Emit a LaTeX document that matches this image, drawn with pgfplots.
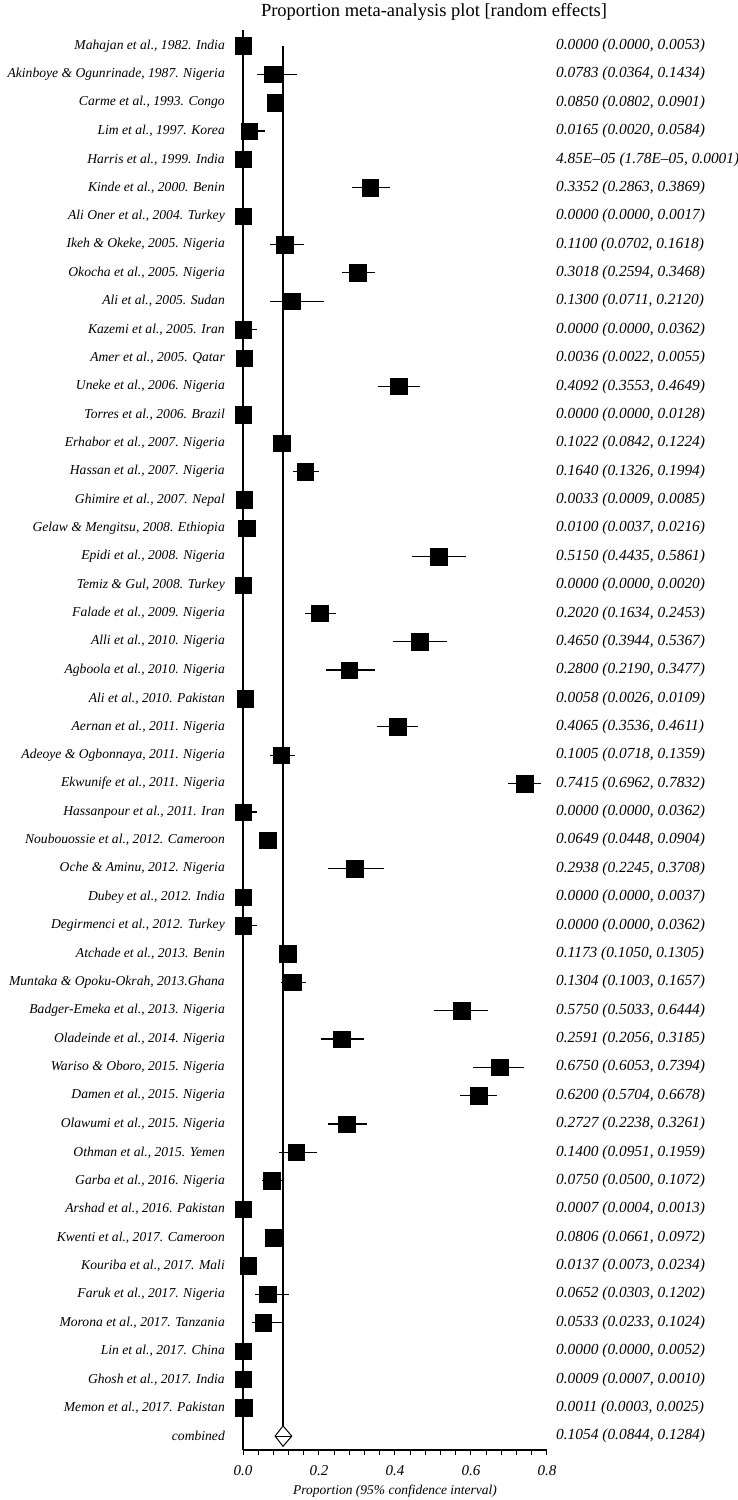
\documentclass[border=0pt]{standalone}
\usepackage{pgfplots}
\pgfplotsset{compat=1.18}
\usepackage{pgfplotstable}
\usepackage{fontspec}
\setmainfont{Liberation Serif}

\pgfplotstableread{
y est lo hi
49 0.0000 0.0000 0.0053
48 0.0783 0.0364 0.1434
47 0.0850 0.0802 0.0901
46 0.0165 0.0020 0.0584
45 0.0000485 0.0000178 0.0001
44 0.3352 0.2863 0.3869
43 0.0000 0.0000 0.0017
42 0.1100 0.0702 0.1618
41 0.3018 0.2594 0.3468
40 0.1300 0.0711 0.2120
39 0.0000 0.0000 0.0362
38 0.0036 0.0022 0.0055
37 0.4092 0.3553 0.4649
36 0.0000 0.0000 0.0128
35 0.1022 0.0842 0.1224
34 0.1640 0.1326 0.1994
33 0.0033 0.0009 0.0085
32 0.0100 0.0037 0.0216
31 0.5150 0.4435 0.5861
30 0.0000 0.0000 0.0020
29 0.2020 0.1634 0.2453
28 0.4650 0.3944 0.5367
27 0.2800 0.2190 0.3477
26 0.0058 0.0026 0.0109
25 0.4065 0.3536 0.4611
24 0.1005 0.0718 0.1359
23 0.7415 0.6962 0.7832
22 0.0000 0.0000 0.0362
21 0.0649 0.0448 0.0904
20 0.2938 0.2245 0.3708
19 0.0000 0.0000 0.0037
18 0.0000 0.0000 0.0362
17 0.1173 0.1050 0.1305
16 0.1304 0.1003 0.1657
15 0.5750 0.5033 0.6444
14 0.2591 0.2056 0.3185
13 0.6750 0.6053 0.7394
12 0.6200 0.5704 0.6678
11 0.2727 0.2238 0.3261
10 0.1400 0.0951 0.1959
9 0.0750 0.0500 0.1072
8 0.0007 0.0004 0.0013
7 0.0806 0.0661 0.0972
6 0.0137 0.0073 0.0234
5 0.0652 0.0303 0.1202
4 0.0533 0.0233 0.1024
3 0.0000 0.0000 0.0052
2 0.0009 0.0007 0.0010
1 0.0011 0.0003 0.0025
}\studies

\begin{document}
\begin{tikzpicture}[x=1pt,y=1pt]
\path[use as bounding box] (0,0) rectangle (738,-1500);
\node[font=\fontsize{18.5}{18.5}\selectfont] at (434,-12) {Proportion meta-analysis plot [random effects]};
\node[font=\fontsize{13.5}{13.5}\selectfont\itshape] at (395,-1491) {Proportion (95\% confidence interval)};

\begin{axis}[
  at={(243pt,-1450pt)}, anchor=south west,
  scale only axis, width=304pt, height=1420pt,
  xmin=0, xmax=0.8, ymin=-0.49, ymax=49.56,
  axis lines=left, axis line style={-, line width=1.2pt},
  clip=false,
  xtick={0,0.2,0.4,0.6,0.8},
  minor xtick={0.04,0.08,0.12,0.16,0.24,0.28,0.32,0.36,0.44,0.48,0.52,0.56,0.64,0.68,0.72,0.76},
  tick align=outside, major tick length=5pt, minor tick length=5pt,
  every tick/.style={line width=1pt, black},
  xticklabel style={font=\fontsize{15}{15}\selectfont\itshape, yshift=-7pt},
  /pgf/number format/.cd, fixed, fixed zerofill, precision=1, assume math mode=true,
  /pgfplots/.cd,
  ytick={0,...,49},
  yticklabels={combined,
    {Memon et al., 2017. Pakistan},
    {Ghosh et al., 2017. India},
    {Lin et al., 2017. China},
    {Morona et al., 2017. Tanzania},
    {Faruk et al., 2017. Nigeria},
    {Kouriba et al., 2017. Mali},
    {Kwenti et al., 2017. Cameroon},
    {Arshad et al., 2016. Pakistan},
    {Garba et al., 2016. Nigeria},
    {Othman et al., 2015. Yemen},
    {Olawumi et al., 2015. Nigeria},
    {Damen et al., 2015. Nigeria},
    {Wariso \& Oboro, 2015. Nigeria},
    {Oladeinde et al., 2014. Nigeria},
    {Badger-Emeka et al., 2013. Nigeria},
    {Muntaka \& Opoku-Okrah, 2013.Ghana},
    {Atchade et al., 2013. Benin},
    {Degirmenci et al., 2012. Turkey},
    {Dubey et al., 2012. India},
    {Oche \& Aminu, 2012. Nigeria},
    {Noubouossie et al., 2012. Cameroon},
    {Hassanpour et al., 2011. Iran},
    {Ekwunife et al., 2011. Nigeria},
    {Adeoye \& Ogbonnaya, 2011. Nigeria},
    {Aernan et al., 2011. Nigeria},
    {Ali et al., 2010. Pakistan},
    {Agboola et al., 2010. Nigeria},
    {Alli et al., 2010. Nigeria},
    {Falade et al., 2009. Nigeria},
    {Temiz \& Gul, 2008. Turkey},
    {Epidi et al., 2008. Nigeria},
    {Gelaw \& Mengitsu, 2008. Ethiopia},
    {Ghimire et al., 2007. Nepal},
    {Hassan et al., 2007. Nigeria},
    {Erhabor et al., 2007. Nigeria},
    {Torres et al., 2006. Brazil},
    {Uneke et al., 2006. Nigeria},
    {Amer et al., 2005. Qatar},
    {Kazemi et al., 2005. Iran},
    {Ali et al., 2005. Sudan},
    {Okocha et al., 2005. Nigeria},
    {Ikeh \& Okeke, 2005. Nigeria},
    {Ali Oner et al., 2004. Turkey},
    {Kinde et al., 2000. Benin},
    {Harris et al., 1999. India},
    {Lim et al., 1997. Korea},
    {Carme et al., 1993. Congo},
    {Akinboye \& Ogunrinade, 1987. Nigeria},
    {Mahajan et al., 1982. India}},
  ytick style={draw=none},
  yticklabel style={font=\fontsize{13.6}{13.6}\selectfont\itshape, anchor=east, inner sep=0pt, xshift=-13pt},
]
\addplot[line width=1.2pt] coordinates {(0.1054,49) (0.1054,0.36)};
\addplot[only marks, mark=square*, mark size=8.25pt,
  mark options={fill=black, draw=black, line width=0.3pt},
  error bars/.cd, x dir=both, x explicit, error mark=none,
  error bar style={line width=1.2pt, black}]
  table[x=est, y=y, x error plus expr=\thisrow{hi}-\thisrow{est}, x error minus expr=\thisrow{est}-\thisrow{lo}] {\studies};
\addplot[draw=black, fill=white, line width=1pt] coordinates {(0.0844,0) (0.1054,0.36) (0.1284,0) (0.1054,-0.36)} -- cycle;
\addplot[line width=1pt] coordinates {(0.0844,0) (0.1284,0)};
\end{axis}

\begin{axis}[
  at={(243pt,-1450pt)}, anchor=south west,
  scale only axis, width=304pt, height=1420pt,
  xmin=0, xmax=0.8, ymin=-0.49, ymax=49.56,
  axis line style={draw=none}, xtick=\empty,
  ytick={0,...,49}, ytick style={draw=none},
  yticklabel pos=right,
  yticklabel style={font=\fontsize{15.4}{15.4}\selectfont\itshape, anchor=west, inner sep=0pt, xshift=9pt},
  yticklabels={
    {0.1054 (0.0844, 0.1284)},
    {0.0011 (0.0003, 0.0025)},
    {0.0009 (0.0007, 0.0010)},
    {0.0000 (0.0000, 0.0052)},
    {0.0533 (0.0233, 0.1024)},
    {0.0652 (0.0303, 0.1202)},
    {0.0137 (0.0073, 0.0234)},
    {0.0806 (0.0661, 0.0972)},
    {0.0007 (0.0004, 0.0013)},
    {0.0750 (0.0500, 0.1072)},
    {0.1400 (0.0951, 0.1959)},
    {0.2727 (0.2238, 0.3261)},
    {0.6200 (0.5704, 0.6678)},
    {0.6750 (0.6053, 0.7394)},
    {0.2591 (0.2056, 0.3185)},
    {0.5750 (0.5033, 0.6444)},
    {0.1304 (0.1003, 0.1657)},
    {0.1173 (0.1050, 0.1305)},
    {0.0000 (0.0000, 0.0362)},
    {0.0000 (0.0000, 0.0037)},
    {0.2938 (0.2245, 0.3708)},
    {0.0649 (0.0448, 0.0904)},
    {0.0000 (0.0000, 0.0362)},
    {0.7415 (0.6962, 0.7832)},
    {0.1005 (0.0718, 0.1359)},
    {0.4065 (0.3536, 0.4611)},
    {0.0058 (0.0026, 0.0109)},
    {0.2800 (0.2190, 0.3477)},
    {0.4650 (0.3944, 0.5367)},
    {0.2020 (0.1634, 0.2453)},
    {0.0000 (0.0000, 0.0020)},
    {0.5150 (0.4435, 0.5861)},
    {0.0100 (0.0037, 0.0216)},
    {0.0033 (0.0009, 0.0085)},
    {0.1640 (0.1326, 0.1994)},
    {0.1022 (0.0842, 0.1224)},
    {0.0000 (0.0000, 0.0128)},
    {0.4092 (0.3553, 0.4649)},
    {0.0036 (0.0022, 0.0055)},
    {0.0000 (0.0000, 0.0362)},
    {0.1300 (0.0711, 0.2120)},
    {0.3018 (0.2594, 0.3468)},
    {0.1100 (0.0702, 0.1618)},
    {0.0000 (0.0000, 0.0017)},
    {0.3352 (0.2863, 0.3869)},
    {4.85E\textendash05 (1.78E\textendash05, 0.0001)},
    {0.0165 (0.0020, 0.0584)},
    {0.0850 (0.0802, 0.0901)},
    {0.0783 (0.0364, 0.1434)},
    {0.0000 (0.0000, 0.0053)}},
]
\end{axis}
\end{tikzpicture}
\end{document}
